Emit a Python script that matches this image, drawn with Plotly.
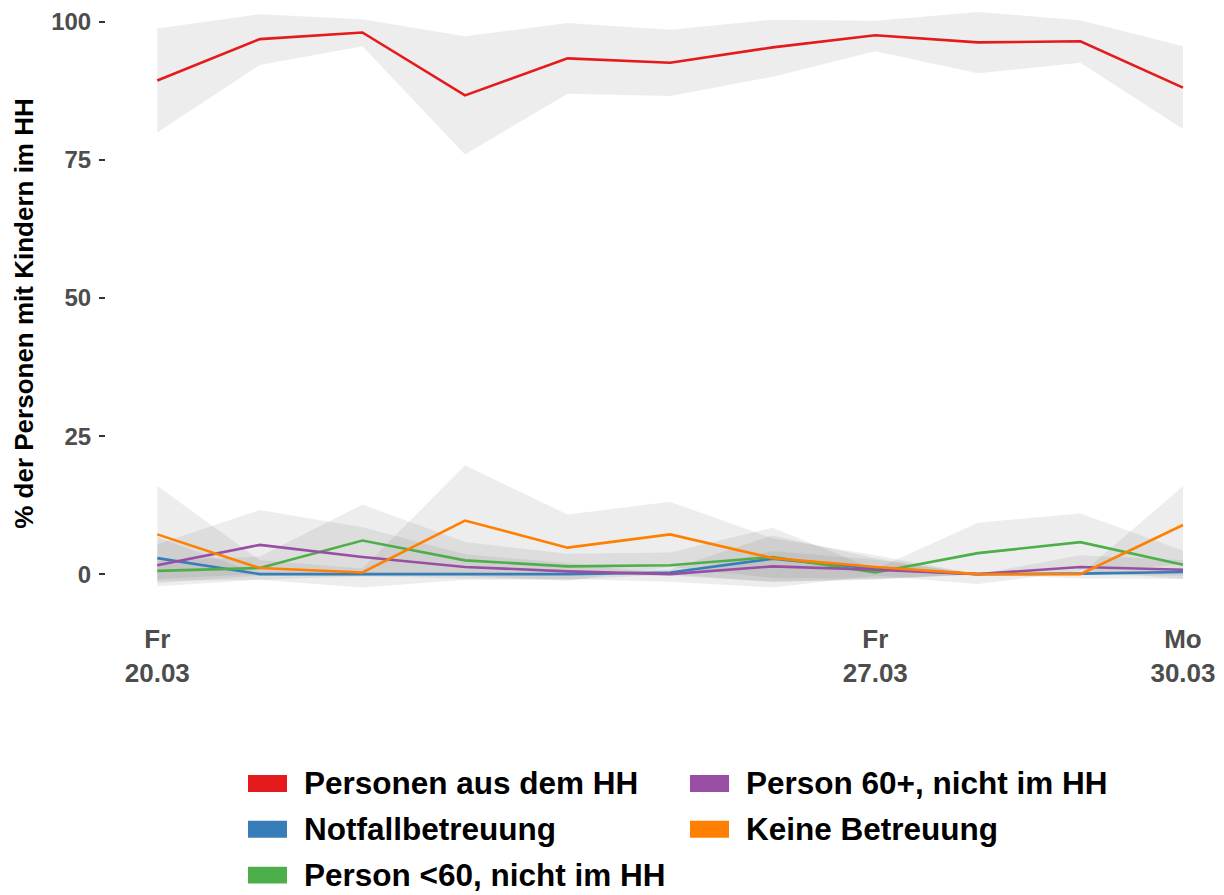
import plotly.graph_objects as go

# ---------------- data ----------------
dates = ["2020-03-20", "2020-03-21", "2020-03-22", "2020-03-23", "2020-03-24",
         "2020-03-25", "2020-03-26", "2020-03-27", "2020-03-28", "2020-03-29",
         "2020-03-30"]

series_names = ["Personen aus dem HH", "Notfallbetreuung", "Person <60, nicht im HH",
                "Person 60+, nicht im HH", "Keine Betreuung"]
series_colors = ["#E41A1C", "#377EB8", "#4DAF4A", "#984EA3", "#FF7F00"]

hh_mid = [89.4, 96.9, 98.1, 86.7, 93.4, 92.6, 95.4, 97.6, 96.3, 96.5, 88.1]
hh_lo = [80.0, 92.2, 95.6, 76.0, 87.0, 86.6, 90.1, 94.7, 90.7, 92.6, 80.6]
hh_hi = [98.8, 101.4, 100.5, 97.4, 99.8, 98.6, 100.4, 100.2, 101.8, 100.3, 95.6]

notf_mid = [2.9, 0.0, 0.0, 0.0, 0.0, 0.3, 2.8, 1.0, 0.0, 0.1, 0.4]
notf_lo = [-0.9, 0.0, 0.0, 0.0, 0.0, -0.3, -1.4, -0.9, 0.0, -0.1, -0.3]
notf_hi = [6.7, 0.0, 0.0, 0.0, 0.0, 0.9, 7.0, 2.9, 0.0, 0.3, 1.1]

u60_mid = [0.6, 1.1, 6.1, 2.5, 1.4, 1.6, 3.1, 0.3, 3.8, 5.8, 1.7]
u60_lo = [-1.2, -1.0, -0.4, -0.8, -0.9, -1.4, -2.4, -0.3, -1.8, 0.6, -0.9]
u60_hi = [2.4, 3.2, 12.6, 5.8, 3.7, 3.9, 8.4, 0.9, 9.3, 11.0, 4.3]

o60_mid = [1.6, 5.3, 3.1, 1.3, 0.5, 0.0, 1.4, 0.8, 0.0, 1.3, 0.8]
o60_lo = [-2.2, -1.0, -2.4, -1.0, -1.0, 0.0, -1.4, -1.0, 0.0, -0.8, -0.9]
o60_hi = [5.4, 11.6, 8.5, 3.6, 2.0, 0.0, 4.2, 2.6, 0.0, 3.4, 2.5]

keine_mid = [7.2, 1.1, 0.3, 9.7, 4.8, 7.2, 2.9, 1.3, 0.0, 0.0, 8.9]
keine_lo = [-1.6, -0.3, -0.4, -0.3, -1.2, 1.3, -0.7, -0.8, 0.0, 0.0, 1.9]
keine_hi = [16.0, 2.5, 1.0, 19.7, 10.8, 13.1, 6.5, 3.4, 0.0, 0.0, 15.9]

tick_dates = ["2020-03-20", "2020-03-27", "2020-03-30"]
tick_labels = ["Fr<br>20.03", "Fr<br>27.03", "Mo<br>30.03"]
y_ticks = [0, 25, 50, 75, 100]
y_title = "% der Personen mit Kindern im HH"

mids = [hh_mid, notf_mid, u60_mid, o60_mid, keine_mid]
los = [hh_lo, notf_lo, u60_lo, o60_lo, keine_lo]
his = [hh_hi, notf_hi, u60_hi, o60_hi, keine_hi]

# ---------------- layout geometry ----------------
# page offset of the plot div (default body margin)
OFF = 8
W, H = 1224 - OFF, 895 - OFF
# plot area in figure pixels
PL, PR, PT, PB = 106 - OFF, W, 0, 617 - OFF
Y0_PX, Y100_PX = 574 - OFF, 20 - OFF
PX_PER_UNIT = (Y0_PX - Y100_PX) / 100.0


def px_x(page_px):
    return (page_px - OFF - PL) / (PR - PL)


def px_y(page_py):
    return (PB - (page_py - OFF)) / (PB - PT)


FONT = "Liberation Sans, Arial, Helvetica, sans-serif"
RIBBON = "rgba(128,128,128,0.14)"

fig = go.Figure()

# ribbons
for name, lo, hi in zip(series_names, los, his):
    fig.add_trace(go.Scatter(
        x=dates + dates[::-1], y=hi + lo[::-1], fill="toself",
        fillcolor=RIBBON, line=dict(width=0), mode="lines",
        hoverinfo="skip", showlegend=False, name=name))

# lines
for name, mid, col in zip(series_names, mids, series_colors):
    fig.add_trace(go.Scatter(
        x=dates, y=mid, mode="lines", name=name,
        line=dict(color=col, width=2.6), showlegend=False))

# manual legend (two columns, column-major like ggplot)
rows_y = [784, 830, 876]
col_key_x = [248, 690]
col_text_x = [302, 744]
shapes = []
annotations = []
for i, (name, col) in enumerate(zip(series_names, series_colors)):
    c, r = divmod(i, 3)
    shapes.append(dict(type="rect", xref="paper", yref="paper",
                       x0=px_x(col_key_x[c]), x1=px_x(col_key_x[c] + 39),
                       y0=px_y(rows_y[r] + 8.5), y1=px_y(rows_y[r] - 8.5),
                       fillcolor=col, line=dict(width=0)))
    annotations.append(dict(xref="paper", yref="paper", x=px_x(col_text_x[c]),
                            y=px_y(rows_y[r]), xanchor="left", yanchor="middle",
                            text="<b>" + name + "</b>", showarrow=False,
                            font=dict(family=FONT, size=31.5, color="black")))

fig.update_layout(
    width=W, height=H,
    margin=dict(l=PL, r=W - PR, t=PT, b=H - PB, pad=0),
    paper_bgcolor="white", plot_bgcolor="white",
    showlegend=False,
    shapes=shapes, annotations=annotations,
    font=dict(family=FONT),
)

fig.update_xaxes(
    type="date",
    range=["2020-03-19 12:00", "2020-03-30 09:36"],
    tickvals=tick_dates, ticktext=tick_labels,
    ticks="", showgrid=False, zeroline=False, showline=False,
    tickfont=dict(family=FONT, size=26, color="#4D4D4D", weight="bold"),
    ticklabelstandoff=4, ticklabeloverflow="allow",
)

fig.update_yaxes(
    range=[-(PB - Y0_PX) / PX_PER_UNIT, 100 + (Y100_PX - PT) / PX_PER_UNIT],
    tickvals=y_ticks, ticktext=[str(v) for v in y_ticks],
    ticks="outside", ticklen=6, tickwidth=2, tickcolor="#333333",
    showgrid=False, zeroline=False, showline=False,
    tickfont=dict(family=FONT, size=24, color="#4D4D4D", weight="bold"),
    ticklabelstandoff=3, ticklabeloverflow="allow",
    title=dict(text="<b>" + y_title + "</b>", standoff=10,
               font=dict(family=FONT, size=26, color="black")),
)

fig.write_html("out.html")
